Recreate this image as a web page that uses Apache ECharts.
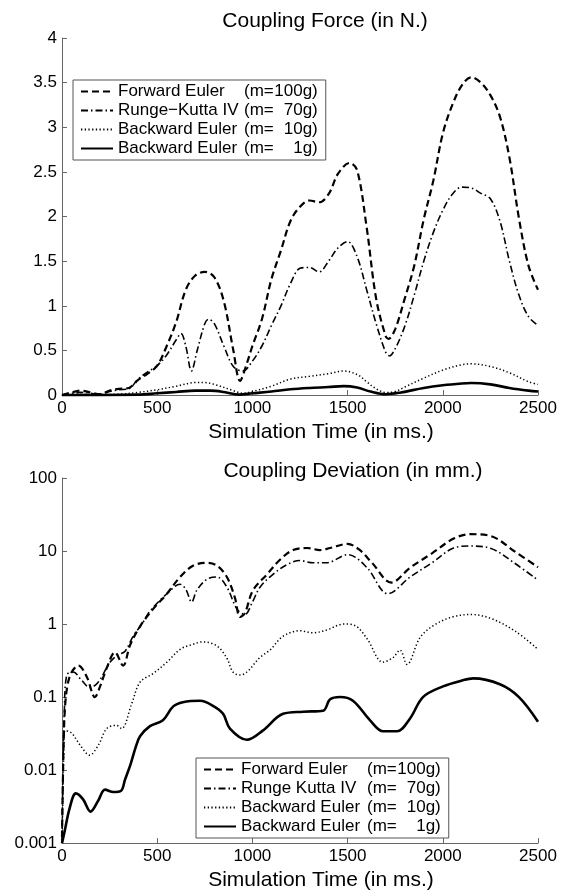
<!DOCTYPE html>
<html>
<head>
<meta charset="utf-8">
<script src="https://cdn.jsdelivr.net/npm/echarts@6/dist/echarts.min.js"></script>
<style>
  html, body { margin: 0; padding: 0; background: #fff; }
  #forceChart, #devChart { width: 572px; height: 448px; }
</style>
</head>
<body>
<div id="forceChart"></div>
<div id="devChart"></div>
<script>
// 图例名称
const legendNames = ['Forward Euler (m=100g)', 'Runge−Kutta IV (m=  70g)', 'Backward Euler (m=  10g)', 'Backward Euler (m=   1g)'];
const legendNames2 = ['Forward Euler (m=100g)', 'Runge Kutta IV (m=  70g)', 'Backward Euler (m=  10g)', 'Backward Euler (m=   1g)'];

// 坐标刻度
const timeTicks = [0, 500, 1000, 1500, 2000, 2500];
const forceTicks = [0, 0.5, 1, 1.5, 2, 2.5, 3, 3.5, 4];
const devTicks = [0.001, 0.01, 0.1, 1, 10, 100];

// Coupling Force 数据
const feForceTime = [0, 50, 100, 150, 200, 250, 300, 350, 400, 450, 500, 550, 600, 650, 700, 750, 800, 850, 900, 935, 970, 1000, 1050, 1100, 1150, 1200, 1250, 1300, 1350, 1400, 1450, 1510, 1550, 1600, 1650, 1700, 1715, 1750, 1800, 1850, 1900, 1950, 2000, 2050, 2100, 2150, 2200, 2250, 2300, 2350, 2400, 2450, 2500];
const feForce = [0, 0.03, 0.05, 0.03, 0.01, 0.05, 0.07, 0.08, 0.17, 0.24, 0.33, 0.55, 0.82, 1.18, 1.34, 1.38, 1.32, 1.05, 0.5, 0.16, 0.35, 0.55, 0.85, 1.3, 1.62, 1.95, 2.11, 2.18, 2.16, 2.25, 2.48, 2.6, 2.52, 1.88, 1.08, 0.66, 0.63, 0.74, 1.08, 1.45, 1.97, 2.4, 2.93, 3.25, 3.47, 3.56, 3.5, 3.36, 3.12, 2.66, 1.98, 1.45, 1.18];
const rkForceTime = [0, 50, 100, 150, 200, 250, 300, 350, 400, 450, 500, 550, 600, 625, 650, 680, 710, 750, 770, 800, 850, 900, 950, 1000, 1050, 1100, 1150, 1200, 1250, 1300, 1350, 1400, 1450, 1500, 1550, 1600, 1650, 1700, 1720, 1750, 1800, 1850, 1900, 1950, 2000, 2050, 2100, 2150, 2200, 2250, 2300, 2350, 2400, 2450, 2500];
const rkForce = [0, 0.02, 0.03, 0.02, 0.01, 0.04, 0.06, 0.07, 0.18, 0.26, 0.33, 0.45, 0.62, 0.69, 0.55, 0.27, 0.5, 0.8, 0.85, 0.8, 0.55, 0.32, 0.27, 0.38, 0.55, 0.78, 1.0, 1.25, 1.42, 1.43, 1.38, 1.5, 1.65, 1.72, 1.55, 1.18, 0.8, 0.48, 0.44, 0.52, 0.77, 1.12, 1.5, 1.82, 2.07, 2.25, 2.33, 2.32, 2.26, 2.2, 1.95, 1.5, 1.12, 0.88, 0.78];
const be10ForceTime = [0, 100, 200, 300, 400, 500, 600, 700, 750, 800, 900, 950, 1000, 1100, 1200, 1300, 1400, 1480, 1550, 1600, 1650, 1700, 1750, 1800, 1900, 2000, 2100, 2150, 2250, 2350, 2450, 2500];
const be10Force = [0, 0.01, 0.005, 0.01, 0.03, 0.06, 0.1, 0.14, 0.14, 0.12, 0.05, 0.02, 0.04, 0.1, 0.18, 0.21, 0.24, 0.27, 0.23, 0.15, 0.07, 0.03, 0.04, 0.09, 0.19, 0.28, 0.34, 0.35, 0.32, 0.25, 0.15, 0.12];
const be1ForceTime = [0, 400, 500, 600, 700, 780, 850, 930, 1000, 1100, 1200, 1300, 1400, 1480, 1550, 1620, 1700, 1780, 1900, 2000, 2100, 2150, 2250, 2350, 2450, 2500];
const be1Force = [0, 0.005, 0.02, 0.035, 0.05, 0.05, 0.035, 0.005, 0.02, 0.04, 0.065, 0.08, 0.09, 0.1, 0.085, 0.04, 0.01, 0.03, 0.08, 0.11, 0.13, 0.135, 0.12, 0.08, 0.05, 0.04];

// Coupling Deviation 数据
const feDevTime = [0, 8, 16, 30, 51, 86, 130, 173, 200, 235, 278, 321, 357, 410, 478, 551, 620, 688, 761, 814, 866, 908, 935, 960, 1003, 1077, 1145, 1213, 1287, 1355, 1408, 1500, 1560, 1626, 1730, 1828, 1943, 2057, 2144, 2259, 2374, 2500];
const feDev = [0.0012, 0.02, 0.074, 0.15, 0.22, 0.27, 0.19, 0.1, 0.14, 0.25, 0.41, 0.27, 0.51, 0.93, 1.6, 2.6, 4.4, 6.3, 6.9, 6.3, 4.4, 2.3, 1.25, 1.4, 2.9, 4.8, 7.6, 10.3, 11, 10.3, 11, 12.5, 10.5, 7, 3.7, 5.9, 9.3, 14.8, 17, 15.8, 10, 6];
const rkDevTime = [0, 5, 12, 25, 59, 103, 147, 190, 252, 295, 330, 375, 420, 462, 551, 620, 650, 681, 708, 761, 814, 866, 919, 960, 1000, 1040, 1108, 1181, 1250, 1318, 1390, 1500, 1600, 1712, 1828, 1943, 2057, 2144, 2259, 2374, 2500];
const rkDev = [0.001, 0.01, 0.06, 0.2, 0.22, 0.17, 0.135, 0.16, 0.3, 0.38, 0.42, 0.69, 1.0, 1.5, 2.6, 3.5, 3.0, 2.0, 2.9, 4.1, 4.4, 3.2, 1.6, 1.35, 2.0, 3.2, 4.8, 6.5, 7.4, 6.9, 6.9, 8.9, 6.0, 2.6, 4.4, 6.9, 11, 11.7, 10.7, 6.9, 4.0];
const be10DevTime = [0, 5, 10, 16, 51, 95, 145, 191, 235, 287, 313, 366, 410, 478, 551, 620, 680, 740, 814, 866, 898, 935, 971, 1040, 1092, 1161, 1250, 1318, 1390, 1480, 1540, 1602, 1686, 1740, 1775, 1812, 1880, 1950, 2050, 2150, 2250, 2380, 2500];
const be10Dev = [0.001, 0.005, 0.02, 0.035, 0.032, 0.022, 0.016, 0.022, 0.037, 0.041, 0.037, 0.081, 0.16, 0.21, 0.3, 0.45, 0.52, 0.57, 0.5, 0.34, 0.22, 0.2, 0.22, 0.35, 0.44, 0.68, 0.81, 0.76, 0.83, 1.0, 0.95, 0.63, 0.3, 0.35, 0.44, 0.28, 0.65, 0.95, 1.25, 1.35, 1.2, 0.8, 0.45];
const be1DevTime = [0, 15, 40, 73, 110, 150, 190, 226, 270, 310, 331, 360, 388, 410, 462, 530, 583, 635, 725, 793, 846, 882, 971, 1056, 1161, 1266, 1371, 1408, 1460, 1528, 1618, 1686, 1759, 1828, 1896, 2001, 2106, 2160, 2300, 2400, 2500];
const be1Dev = [0.001, 0.0015, 0.003, 0.0048, 0.004, 0.0027, 0.0038, 0.0054, 0.005, 0.0052, 0.0074, 0.012, 0.021, 0.029, 0.04, 0.048, 0.074, 0.085, 0.089, 0.076, 0.059, 0.037, 0.026, 0.035, 0.059, 0.063, 0.065, 0.093, 0.1, 0.089, 0.048, 0.034, 0.034, 0.051, 0.1, 0.14, 0.17, 0.18, 0.15, 0.1, 0.046];

const FONT = "'Liberation Sans', Arial, Helvetica, sans-serif";

// 线型
const lineTypes = [
  {type: [7, 4], width: 2.2},
  {type: [7, 3, 1.5, 3], width: 1.6},
  {type: [1.3, 2.4], width: 1.5},
  {type: 'solid', width: 2.6}
];

function zip(t, v) {
  return t.map((x, i) => [x, v[i]]);
}

function makeSeries(names, pairs) {
  return names.map((name, i) => ({
    name: name,
    type: 'line',
    symbol: 'none',
    smooth: 0.35,
    data: pairs[i],
    lineStyle: {color: '#000', type: lineTypes[i].type, width: lineTypes[i].width},
    itemStyle: {color: '#000', opacity: 0}
  }));
}

// 图例: 名称 + (m= + 质量
function legendFormatter(name) {
  const idx = name.indexOf(' (m=');
  const label = name.slice(0, idx);
  const mass = name.slice(idx + 4).trim();
  return '{a|' + label + '}{b|(m=}{c|' + mass + '}';
}

function makeLegend(names, left, top) {
  return {
    data: names,
    orient: 'vertical',
    left: left,
    top: top,
    itemWidth: 32,
    itemHeight: 14,
    itemGap: 2,
    padding: [3, 8, 3, 7],
    borderColor: '#555',
    borderWidth: 1,
    backgroundColor: '#fff',
    selectedMode: false,
    itemStyle: {opacity: 0},
    formatter: legendFormatter,
    textStyle: {
      color: '#000',
      fontFamily: FONT,
      fontSize: 17,
      rich: {
        a: {width: 126, fontSize: 17, fontFamily: FONT, color: '#000', lineHeight: 17},
        b: {fontSize: 17, fontFamily: FONT, color: '#000', lineHeight: 17},
        c: {width: 44, align: 'right', fontSize: 17, fontFamily: FONT, color: '#000', lineHeight: 17}
      }
    }
  };
}

function timeAxis() {
  return {
    type: 'value',
    min: timeTicks[0],
    max: timeTicks[timeTicks.length - 1],
    interval: 500,
    name: 'Simulation Time (in ms.)',
    nameLocation: 'middle',
    nameGap: 16,
    nameTextStyle: {fontSize: 21, fontFamily: FONT, color: '#000', padding: [0, 0, 0, 42]},
    axisLine: {lineStyle: {color: '#666', width: 1}},
    axisTick: {inside: true, length: 5, lineStyle: {color: '#666'}},
    axisLabel: {fontSize: 17, fontFamily: FONT, color: '#000', margin: 5, formatter: v => String(v)},
    splitLine: {show: false}
  };
}

function titleOf(text, left, top) {
  return {
    text: text,
    left: left,
    top: top,
    textAlign: 'center',
    textStyle: {fontSize: 21, fontWeight: 'normal', fontFamily: FONT, color: '#000'}
  };
}

function initForceChart() {
  const chart = echarts.init(document.getElementById('forceChart'));
  chart.setOption({
    animation: false,
    backgroundColor: '#fff',
    title: titleOf('Coupling Force (in N.)', 320, 6),
    grid: {left: 62, right: 34, top: 38, bottom: 45, containLabel: false},
    legend: makeLegend(legendNames, 73, 80),
    xAxis: timeAxis(),
    yAxis: {
      type: 'value',
      min: forceTicks[0],
      max: forceTicks[forceTicks.length - 1],
      interval: 0.5,
      axisLine: {show: true, lineStyle: {color: '#666', width: 1}},
      axisTick: {show: true, inside: true, length: 5, lineStyle: {color: '#666'}},
      axisLabel: {fontSize: 17, fontFamily: FONT, color: '#000', margin: 5},
      splitLine: {show: false}
    },
    series: makeSeries(legendNames, [
      zip(feForceTime, feForce),
      zip(rkForceTime, rkForce),
      zip(be10ForceTime, be10Force),
      zip(be1ForceTime, be1Force)
    ])
  });
}

function initDevChart() {
  const chart = echarts.init(document.getElementById('devChart'));
  chart.setOption({
    animation: false,
    backgroundColor: '#fff',
    title: titleOf('Coupling Deviation (in mm.)', 348, 8),
    grid: {left: 62, right: 34, top: 30, bottom: 43, containLabel: false},
    legend: makeLegend(legendNames2, 196, 310),
    xAxis: timeAxis(),
    yAxis: {
      type: 'log',
      logBase: 10,
      min: devTicks[0],
      max: devTicks[devTicks.length - 1],
      axisLine: {show: true, lineStyle: {color: '#666', width: 1}},
      axisTick: {show: true, inside: true, length: 5, lineStyle: {color: '#666'}},
      axisLabel: {
        fontSize: 17, fontFamily: FONT, color: '#000', margin: 5,
        formatter: v => String(+Number(v).toPrecision(1))
      },
      splitLine: {show: false}
    },
    series: makeSeries(legendNames2, [
      zip(feDevTime, feDev),
      zip(rkDevTime, rkDev),
      zip(be10DevTime, be10Dev),
      zip(be1DevTime, be1Dev)
    ])
  });
}

initForceChart();
initDevChart();
</script>
</body>
</html>
